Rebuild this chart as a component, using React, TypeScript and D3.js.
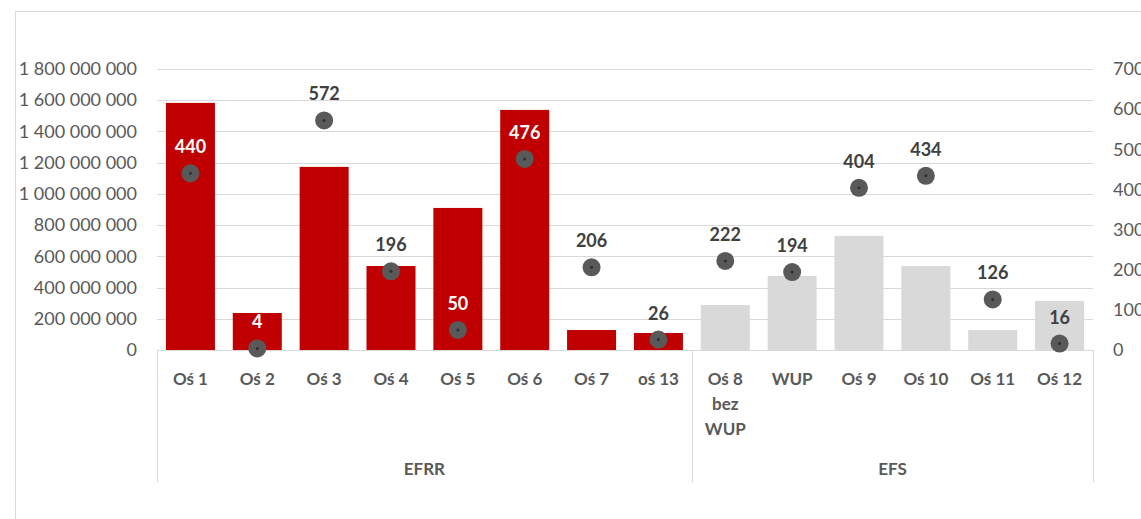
import { useEffect, useRef } from 'react';
import * as d3 from 'd3';

// categories (multi-line labels split by '\n')
const categories = [
    'Oś 1', 'Oś 2', 'Oś 3', 'Oś 4', 'Oś 5', 'Oś 6', 'Oś 7', 'oś 13',
    'Oś 8\nbez\nWUP', 'WUP', 'Oś 9', 'Oś 10', 'Oś 11', 'Oś 12',
];
const groups = [
    { name: 'EFRR', count: 8 },
    { name: 'EFS', count: 6 },
];
// bars - left axis (PLN)
const amounts = [
    1583000000, 237000000, 1173000000, 538000000, 910000000, 1538000000, 128000000, 109000000,
    288000000, 474000000, 731000000, 538000000, 128000000, 314000000,
];
// points - right axis
const counts = [440, 4, 572, 196, 50, 476, 206, 26, 222, 194, 404, 434, 126, 16];

const leftTicks = [0, 200e6, 400e6, 600e6, 800e6, 1000e6, 1200e6, 1400e6, 1600e6, 1800e6];
const rightTicks = [0, 100, 200, 300, 400, 500, 600, 700];

const W = 1141;
const H = 519;
const plot = { left: 157, right: 1093, top: 69, bottom: 350 };
const font = 'Lato, "Open Sans", sans-serif';

const App = () => {
    const svgRef = useRef<SVGSVGElement>(null);

    useEffect(() => {
        const svg = d3.select(svgRef.current);
        svg.selectAll('*').remove();

        const x = d3
            .scaleBand()
            .domain(categories)
            .range([plot.left, plot.right])
            .paddingInner(0.267)
            .paddingOuter(0.1335);
        const yL = d3.scaleLinear().domain([0, 1800e6]).range([plot.bottom, plot.top]);
        const yR = d3.scaleLinear().domain([0, 700]).range([plot.bottom, plot.top]);
        const fmt = (v: number) => d3.format(',')(v).replace(/,/g, ' ');

        // outer chart border
        svg.append('rect')
            .attr('x', 15.5)
            .attr('y', 11.5)
            .attr('width', 1300)
            .attr('height', 700)
            .attr('fill', 'none')
            .attr('stroke', '#d9d9d9');

        // gridlines
        svg.append('g')
            .selectAll('line')
            .data(leftTicks.slice(1))
            .join('line')
            .attr('x1', plot.left)
            .attr('x2', plot.right)
            .attr('y1', d => Math.round(yL(d)) + 0.5)
            .attr('y2', d => Math.round(yL(d)) + 0.5)
            .attr('stroke', '#d9d9d9');

        // left axis
        const gL = svg.append('g')
            .attr('transform', `translate(${plot.left - 20},0)`)
            .call(d3.axisLeft(yL).tickValues(leftTicks).tickSize(0).tickFormat(d => fmt(+d)));
        gL.select('.domain').remove();
        gL.selectAll('text')
            .attr('x', 0)
            .attr('fill', '#595959')
            .style('font-family', font)
            .style('font-size', '18px');

        // right axis
        const gR = svg.append('g')
            .attr('transform', `translate(${plot.right + 20},0)`)
            .call(d3.axisRight(yR).tickValues(rightTicks).tickSize(0).tickFormat(d => String(d)));
        gR.select('.domain').remove();
        gR.selectAll('text')
            .attr('x', 0)
            .attr('fill', '#595959')
            .style('font-family', font)
            .style('font-size', '18px');

        // bars
        svg.append('g')
            .selectAll('rect')
            .data(amounts)
            .join('rect')
            .attr('x', (_, i) => x(categories[i]) ?? 0)
            .attr('y', d => yL(d))
            .attr('width', x.bandwidth())
            .attr('height', d => yL(0) - yL(d))
            .attr('fill', (_, i) => (i < groups[0].count ? '#c00000' : '#d9d9d9'));

        // category axis box
        const axis = svg.append('g').attr('stroke', '#d9d9d9').attr('fill', 'none');
        axis.append('line')
            .attr('x1', plot.left)
            .attr('x2', plot.right + 1)
            .attr('y1', plot.bottom + 0.5)
            .attr('y2', plot.bottom + 0.5);
        let acc = 0;
        const seps = [0];
        groups.forEach(g => {
            acc += g.count;
            seps.push(acc);
        });
        axis.selectAll('line.sep')
            .data(seps)
            .join('line')
            .attr('class', 'sep')
            .attr('x1', i => Math.round(plot.left + i * x.step()) + 0.5)
            .attr('x2', i => Math.round(plot.left + i * x.step()) + 0.5)
            .attr('y1', plot.bottom)
            .attr('y2', 482);

        // category labels
        const cat = svg.append('g')
            .attr('fill', '#595959')
            .style('font-family', font)
            .style('font-size', '17px')
            .style('font-weight', 'bold')
            .attr('text-anchor', 'middle');
        categories.forEach(c => {
            const cx = (x(c) ?? 0) + x.bandwidth() / 2;
            c.split('\n').forEach((line, j) => {
                cat.append('text')
                    .attr('x', cx)
                    .attr('y', 385 + j * 25)
                    .text(line);
            });
        });
        // group labels
        groups.forEach((g, k) => {
            const x0 = plot.left + seps[k] * x.step();
            const x1 = plot.left + seps[k + 1] * x.step();
            cat.append('text')
                .attr('x', (x0 + x1) / 2)
                .attr('y', 475)
                .text(g.name);
        });

        // points
        const pts = svg.append('g');
        counts.forEach((v, i) => {
            const cx = (x(categories[i]) ?? 0) + x.bandwidth() / 2;
            const cy = yR(v);
            pts.append('circle').attr('cx', cx).attr('cy', cy).attr('r', 9).attr('fill', '#595959');
            pts.append('circle').attr('cx', cx).attr('cy', cy).attr('r', 1.5).attr('fill', '#2f2f2f');
            const base = cy - 20;
            const inside = i < groups[0].count && base > yL(amounts[i]) + 8;
            pts.append('text')
                .attr('x', cx)
                .attr('y', base)
                .attr('text-anchor', 'middle')
                .attr('fill', inside ? '#ffffff' : '#404040')
                .style('font-family', font)
                .style('font-size', '18px')
                .style('font-weight', 'bold')
                .text(String(v));
        });
    }, []);

    return (
        <div style={{ position: 'absolute', left: 0, top: 0, width: W, height: H, overflow: 'hidden', background: '#fff' }}>
            <svg ref={svgRef} width={W} height={H}></svg>
        </div>
    );
};

export default App;
